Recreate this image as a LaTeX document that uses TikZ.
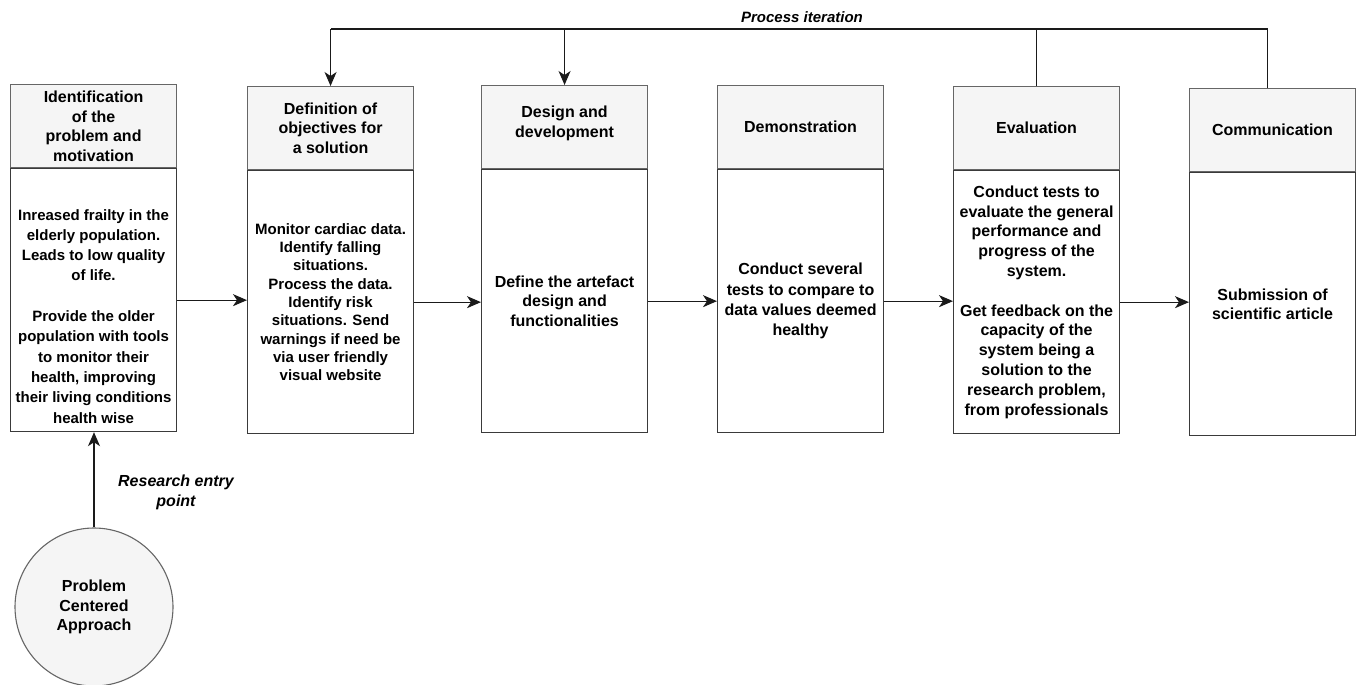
\documentclass[tikz,border=0pt]{standalone}
\usepackage{fontspec}
\setmainfont{Liberation Sans}
\usetikzlibrary{arrows.meta,calc}

\definecolor{headfill}{HTML}{F5F5F5}
\definecolor{headline}{HTML}{666666}
\definecolor{bodyline}{HTML}{3A3A3A}
\definecolor{wire}{HTML}{1A1A1A}

\newcommand{\fsz}[2]{\fontsize{#1}{#2}\selectfont\bfseries}

\tikzset{
  x=1pt, y=-1pt,
  head/.style={draw=headline, fill=headfill, line width=1.1pt,
    minimum width=166pt, minimum height=83pt, anchor=north west,
    inner sep=2pt, align=center, text=black, font=\fsz{16}{19.5}},
  body/.style={draw=bodyline, fill=white, line width=1.1pt,
    minimum width=166pt, minimum height=263pt, anchor=north,
    inner sep=1pt, align=center, text=black},
  bodytext/.style={align=center, inner sep=0pt, text=black},
  startnode/.style={circle, draw=headline, fill=headfill, line width=1.1pt,
    minimum size=158pt, inner sep=0pt, align=center, font=\fsz{16}{19.7}},
  note/.style={align=center, inner sep=0pt, font=\fontsize{16}{20}\selectfont\bfseries\itshape},
  flow/.style={draw=wire, line width=1.2pt,
    -{Stealth[length=14pt, width=12pt, inset=4pt]}},
  plain/.style={draw=wire, line width=1.2pt}
}

\begin{document}
\begin{tikzpicture}
\useasboundingbox (0,0) rectangle (1360,685);

% phase headers
\node[head] (h1) at (10,84)   {Identification\\of the\\problem and\\motivation};
\node[head] (h2) at (247,86)  {Definition of\\objectives for\\a solution};
\node[head] (h3) at (481,85)  {Design and\\development\\[-8.5pt]};
\node[head] (h4) at (717,85)  {Demonstration};
\node[head] (h5) at (953,86)  {Evaluation};
\node[head] (h6) at (1189,88) {Communication};

% phase bodies
\node[body] (b1) at (h1.south) {};
\node[bodytext, font=\fsz{15}{20.3}] (t1) at ([yshift=-16pt]b1.center)
  {Inreased frailty in the\\elderly population.\\Leads to low quality\\of life.\\[20.3pt]
   Provide the older\\population with tools\\to monitor their\\health, improving\\their living conditions\\health wise};
\node[body, font=\fsz{15}{18.3}] (b2) at (h2.south)
  {Monitor cardiac data.\\Identify falling\\situations.\\Process the data.\\Identify risk\\situations. Send\\warnings if need be\\via user friendly\\visual website};
\node[body, font=\fsz{16}{19.2}] (b3) at (h3.south)
  {Define the artefact\\design and\\functionalities};
\node[body, font=\fsz{16}{20.3}] (b4) at (h4.south)
  {Conduct several\\tests to compare to\\data values deemed\\healthy};
\node[body, font=\fsz{16}{19.8}] (b5) at (h5.south)
  {Conduct tests to\\evaluate the general\\performance and\\progress of the\\system.\\[19.8pt]
   Get feedback on the\\capacity of the\\system being a\\solution to the\\research problem,\\from professionals};
\node[body, font=\fsz{16}{19.3}] (b6) at (h6.south)
  {Submission of\\scientific article};

% entry point
\node[startnode] (pca) at (94,607) {Problem\\Centered\\Approach};
\node[note] (entry) at (176,492) {Research entry\\point};
\draw[flow] (pca.north) -- (pca.north |- b1.south);

% forward flow between phases
\draw[flow] (b1.east) -- (b1.east -| b2.west);
\draw[flow] (b2.east) -- (b2.east -| b3.west);
\draw[flow] (b3.east) -- (b3.east -| b4.west);
\draw[flow] (b4.east) -- (b4.east -| b5.west);
\draw[flow] (b5.east) -- (b5.east -| b6.west);

% iteration loop back to earlier phases
\coordinate (loopL) at ($(h2.north)+(0,-57)$);
\coordinate (loopR) at ($(h6.north)+(-5,-59)$);
\node[note, font=\fontsize{15}{18}\selectfont\bfseries\itshape] (iter) at (802,17) {Process iteration};
\draw[plain] ([xshift=-5pt]h6.north) -- (loopR) -- (loopL);
\draw[plain] (h5.north) -- (h5.north |- loopL);
\draw[flow] (loopL) -- (h2.north);
\draw[flow] (h3.north |- loopL) -- (h3.north);
\end{tikzpicture}
\end{document}
